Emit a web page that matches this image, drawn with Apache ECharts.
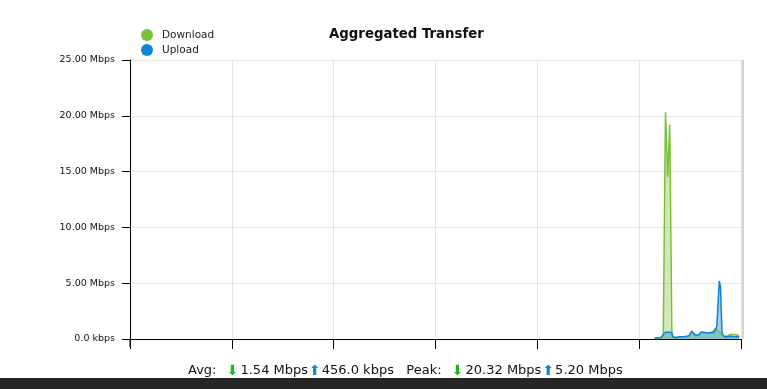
<!DOCTYPE html>
<html><head><meta charset="utf-8">
<script src="https://cdn.jsdelivr.net/npm/echarts@6/dist/echarts.min.js"></script>
<style>html,body{margin:0;padding:0;background:#fff}#c{width:767px;height:389px}</style>
</head><body><div id="c"></div>
<script>
// time slot index (0..360 spans the visible window)
const timeIdx = [309,310,311,312,313,314.2,315.5,316.8,318.0,319.3,320,322,324,326,328,329.5,331,332,333,334,335,336.5,338,339.5,341,342.5,344,345,345.8,346.4,347.2,347.9,348.8,350,352,354,355,356,357,358,359];
const downloadMbps = [0.05,0.05,0.05,0.05,0.1,0.3,20.32,14.5,19.2,0.2,0.1,0.1,0.15,0.2,0.2,0.3,0.65,0.6,0.35,0.3,0.3,0.6,0.6,0.5,0.55,0.6,0.75,0.96,0.85,0.75,0.7,0.6,0.35,0.25,0.3,0.4,0.35,0.4,0.3,0.35,0.2];
const uploadMbps   = [0.1,0.1,0.1,0.1,0.15,0.4,0.6,0.6,0.6,0.55,0.15,0.15,0.2,0.2,0.25,0.3,0.7,0.65,0.35,0.3,0.35,0.6,0.6,0.55,0.55,0.55,0.6,0.8,1.2,3.0,5.2,4.7,0.6,0.2,0.2,0.25,0.3,0.2,0.3,0.2,0.15];
const seriesNames = ['Download','Upload'];
const yTicks = [0,5,10,15,20,25];
const summary = {avgDown:'1.54 Mbps', avgUp:'456.0 kbps', peakDown:'20.32 Mbps', peakUp:'5.20 Mbps'};

const GREEN = '#7cc03a', BLUE = '#0b84d9';
const FONT = 'DejaVu Sans';
const chart = echarts.init(document.getElementById('c'), null, {renderer:'canvas'});
const fmtY = v => v === 0 ? '0.0 kbps' : v.toFixed(2) + ' Mbps';
const mk = arr => timeIdx.map((t,i)=>[t,arr[i]]);
chart.setOption({
  animation:false,
  title:{text:'Aggregated Transfer', left:324, top:23,
    textStyle:{fontFamily:FONT, fontWeight:'bold', fontSize:13.3, color:'#111'}},
  legend:{orient:'vertical', left:136, top:24, itemGap:3, icon:'circle', itemWidth:12, itemHeight:12,
    textStyle:{fontFamily:FONT, fontSize:10.5, color:'#222', padding:[0,0,0,4]},
    data:seriesNames},
  grid:{left:130, right:26, top:60, bottom:50},
  xAxis:{type:'value', min:0, max:360, interval:60,
    axisLine:{lineStyle:{color:'#000', width:1}}, axisTick:{show:true, length:10, lineStyle:{color:'#000'}},
    axisLabel:{show:false}, splitLine:{show:true, lineStyle:{color:'#e4e4e4'}}},
  yAxis:{type:'value', min:0, max:25, interval:5,
    axisLine:{show:true, lineStyle:{color:'#000'}}, axisTick:{show:true, length:8, lineStyle:{color:'#000'}},
    axisLabel:{formatter:v=>yTicks.includes(v)?fmtY(v):'', fontFamily:FONT, fontSize:9.5, color:'#111', margin:15},
    splitLine:{lineStyle:{color:'#e4e4e4'}}},
  series:[
    {name:'Download', type:'line', data:mk(downloadMbps), symbol:'none', color:GREEN,
      lineStyle:{width:1.5, color:GREEN}, areaStyle:{color:'rgba(124,192,58,0.5)'}},
    {name:'Upload', type:'line', data:mk(uploadMbps), symbol:'none', color:BLUE,
      lineStyle:{width:1.5, color:BLUE}, areaStyle:{color:'rgba(11,132,217,0.55)'}}
  ],
  graphic:[
    {type:'rect', shape:{x:741, y:60, width:3, height:279}, style:{fill:'#d4d4d4'}, z:0},
    {type:'line', shape:{x1:130, y1:339, x2:130, y2:347}, style:{stroke:'#000', lineWidth:1}},
    {type:'text', left:188, top:364, style:{
      text:'{l|Avg:  }{d|⬇}{l|' + summary.avgDown + '}{u|⬆}{l|' + summary.avgUp + '   Peak:  }{d|⬇}{l|' + summary.peakDown + '}{u|⬆}{l|' + summary.peakUp + '}',
      rich:{
        l:{fontFamily:FONT, fontSize:13, fill:'#111'},
        d:{fontFamily:FONT, fontSize:14, fill:'#1fb51f', padding:[0,2,0,2]},
        u:{fontFamily:FONT, fontSize:14, fill:'#1488cc', padding:[0,1,0,1]}
      }}},
    {type:'rect', shape:{x:0, y:378, width:767, height:11}, style:{fill:'#262626'}}
  ]
});
</script></body></html>
